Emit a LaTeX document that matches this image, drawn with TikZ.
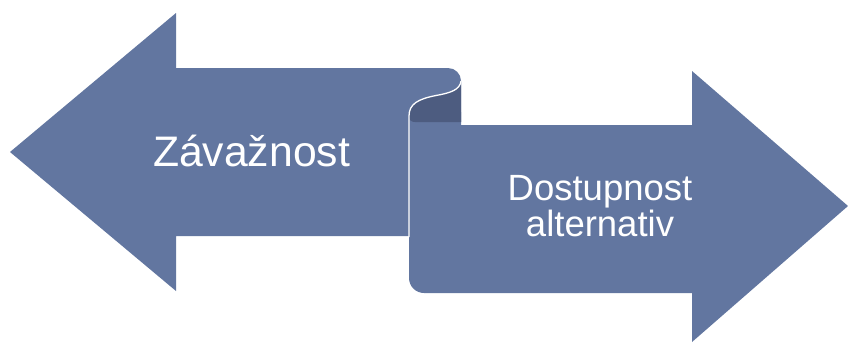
\documentclass[tikz,border=0pt]{standalone}
\usepackage{fontspec}
\setmainfont{Liberation Sans}
\definecolor{arrowblue}{HTML}{6276A0}
\definecolor{curldark}{HTML}{4D5C80}
\begin{document}
\begin{tikzpicture}[x=1pt,y=-1pt,
  shapefill/.style={fill=arrowblue,draw=none},
  curlfill/.style={fill=curldark,draw=none},
  edgeline/.style={draw=white,line width=1.3pt},
  lbl/.style={text=white,inner sep=0pt,anchor=base,align=center}]
\useasboundingbox (0,0) rectangle (848,343);
% left arrow
\path[shapefill] (10,152) -- (176,13) -- (176,68) -- (448,68)
  arc[start angle=-90,end angle=0,radius=13] -- (461,122) -- (409,122)
  -- (409,236) -- (176,236) -- (176,291) -- cycle;
% right arrow (front sheet)
\path[shapefill] (409,112) -- (409,278)
  arc[start angle=180,end angle=90,radius=15] -- (692,293) -- (692,342)
  -- (848,206) -- (692,71) -- (692,125) -- (461,125) -- (461,112) -- cycle;
% inner side of the curl
\path[curlfill] (461,81) .. controls (460,90) and (450,93) .. (436,95.5)
  .. controls (418,99) and (409,104) .. (409,116)
  .. controls (409,120) and (411,122) .. (415,122) -- (461,122) -- cycle;
% white edge of the scroll
\path[edgeline] (461,81) .. controls (460,90) and (450,93) .. (436,95.5)
  .. controls (418,99) and (409,104) .. (409,116) -- (409,237);
\node[lbl,font=\fontsize{42.7}{45}\selectfont] (zav) at (251.5,166) {Závažnost};
\node[lbl,font=\fontsize{36.5}{34}\selectfont] (dost) at (600,236) {Dostupnost\\alternativ};
\end{tikzpicture}
\end{document}
